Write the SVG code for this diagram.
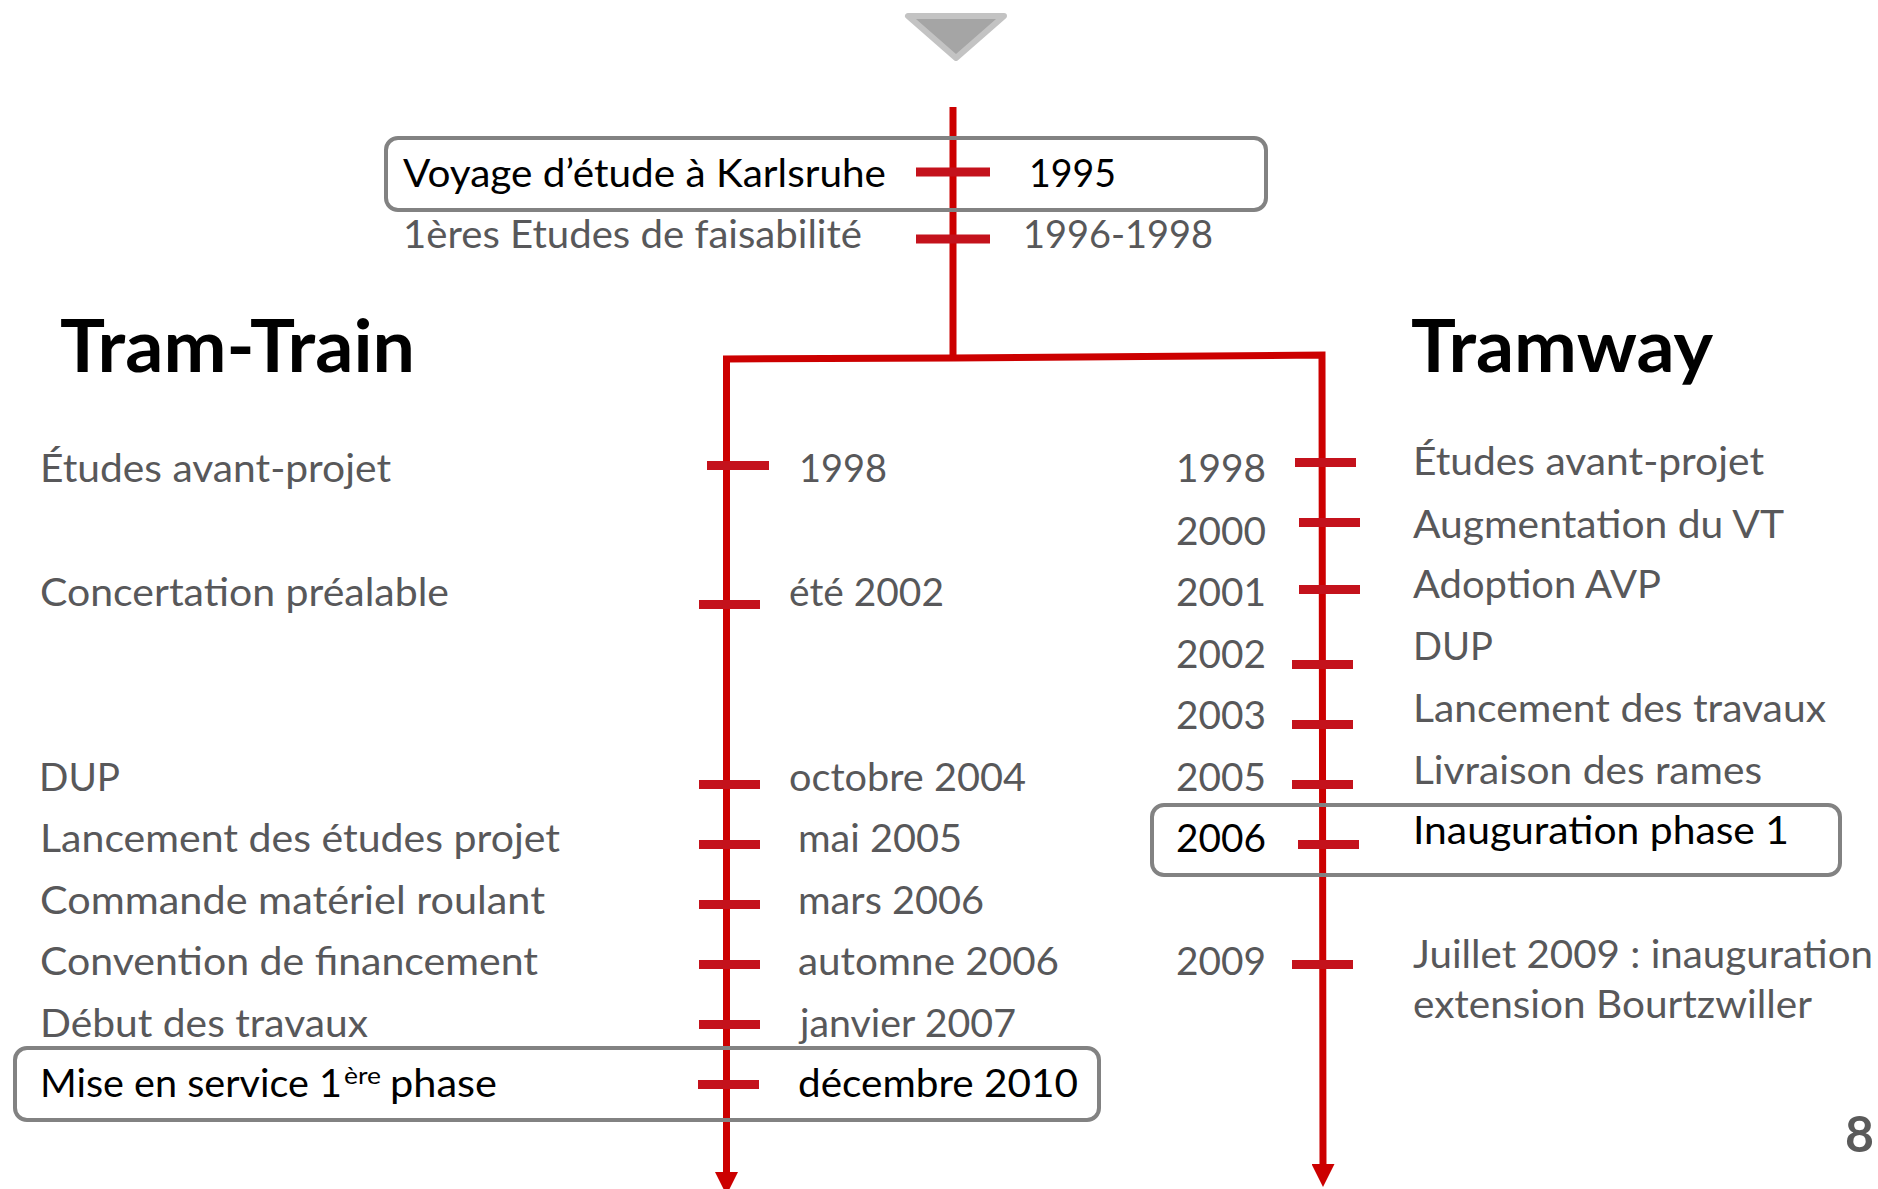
<svg xmlns="http://www.w3.org/2000/svg" width="1878" height="1189" viewBox="0 0 1878 1189">
<style>
text{font-family:Lato,"Liberation Sans",sans-serif;font-size:38px}
.g{fill:#58585a}
.k{fill:#000}
.ttl{font-weight:bold;font-size:73px;fill:#000}
.box{fill:none;stroke:#828282;stroke-width:4}
.tick{stroke:#c4121c;stroke-width:9}
.line{fill:none;stroke:#cc0000;stroke-width:7;stroke-linejoin:miter}
</style>
<defs>
<marker id="ah" viewBox="0 0 10 10" refX="0" refY="5" markerWidth="23" markerHeight="23" markerUnits="userSpaceOnUse" orient="auto">
<path d="M0,0 L10,5 L0,10 z" fill="#cc0000"/>
</marker>
</defs>
<rect width="1878" height="1189" fill="#fff"/>
<g id="nav-triangle">
<polygon points="908,16 1004,16 956,58" fill="#a5a5a5" stroke="#c3c3c3" stroke-width="6" stroke-linejoin="round"/>
</g>
<g id="connectors">
<path class="line" d="M953,107 V358"/>
<path class="line" d="M953,358 L726.5,359 L726.5,1172" marker-end="url(#ah)"/>
<path class="line" d="M953,358 L1322,355 L1323,1164" marker-end="url(#ah)"/>
</g>
<g id="titles">
<text class="ttl" x="60" y="372" textLength="355" lengthAdjust="spacingAndGlyphs">Tram-Train</text>
<text class="ttl" x="1411" y="372" textLength="302" lengthAdjust="spacingAndGlyphs">Tramway</text>
</g>
<g id="top-1995">
<line class="tick" x1="916" y1="172" x2="990" y2="172"/>
<rect class="box" x="386" y="138" width="880" height="72" rx="12"/>
<text class="k" x="403" y="187" textLength="483" lengthAdjust="spacingAndGlyphs">Voyage d’étude à Karlsruhe</text>
<text class="k" x="1029" y="187" textLength="87" lengthAdjust="spacingAndGlyphs">1995</text>
</g>
<g id="top-1996">
<line class="tick" x1="916" y1="239" x2="990" y2="239"/>
<text class="g" x="403" y="248" textLength="459" lengthAdjust="spacingAndGlyphs">1ères Etudes de faisabilité</text>
<text class="g" x="1023" y="248" textLength="190" lengthAdjust="spacingAndGlyphs">1996-1998</text>
</g>
<g id="tt-1998">
<line class="tick" x1="707" y1="465.5" x2="769" y2="465.5"/>
<text class="g" x="40" y="481.5" textLength="351" lengthAdjust="spacingAndGlyphs">Études avant-projet</text>
<text class="g" x="799" y="481.5" textLength="88" lengthAdjust="spacingAndGlyphs">1998</text>
</g>
<g id="tt-2002">
<line class="tick" x1="699" y1="604.5" x2="760" y2="604.5"/>
<text class="g" x="40" y="605.5" textLength="409" lengthAdjust="spacingAndGlyphs">Concertation préalable</text>
<text class="g" x="789" y="605.5" textLength="155" lengthAdjust="spacingAndGlyphs">été 2002</text>
</g>
<g id="tt-2004">
<line class="tick" x1="699" y1="784.5" x2="760" y2="784.5"/>
<text class="g" x="39" y="790.5" textLength="81" lengthAdjust="spacingAndGlyphs">DUP</text>
<text class="g" x="789" y="790.5" textLength="237" lengthAdjust="spacingAndGlyphs">octobre 2004</text>
</g>
<g id="tt-2005">
<line class="tick" x1="699" y1="844.5" x2="760" y2="844.5"/>
<text class="g" x="40" y="851.5" textLength="520" lengthAdjust="spacingAndGlyphs">Lancement des études projet</text>
<text class="g" x="798" y="851.5" textLength="164" lengthAdjust="spacingAndGlyphs">mai 2005</text>
</g>
<g id="tt-2006a">
<line class="tick" x1="699" y1="904.5" x2="760" y2="904.5"/>
<text class="g" x="40" y="913.5" textLength="505" lengthAdjust="spacingAndGlyphs">Commande matériel roulant</text>
<text class="g" x="798" y="913.5" textLength="186" lengthAdjust="spacingAndGlyphs">mars 2006</text>
</g>
<g id="tt-2006b">
<line class="tick" x1="699" y1="964.5" x2="760" y2="964.5"/>
<text class="g" x="40" y="974.5" textLength="498" lengthAdjust="spacingAndGlyphs">Convention de financement</text>
<text class="g" x="798" y="974.5" textLength="261" lengthAdjust="spacingAndGlyphs">automne 2006</text>
</g>
<g id="tt-2007">
<line class="tick" x1="699" y1="1024.5" x2="760" y2="1024.5"/>
<text class="g" x="40" y="1036.5" textLength="328" lengthAdjust="spacingAndGlyphs">Début des travaux</text>
<text class="g" x="800" y="1036.5" textLength="216" lengthAdjust="spacingAndGlyphs">janvier 2007</text>
</g>
<g id="tt-2010">
<line class="tick" x1="698" y1="1084.5" x2="759" y2="1084.5"/>
<rect class="box" x="15" y="1048" width="1084" height="72" rx="12"/>
<text class="k" x="40" y="1096.5" textLength="302" lengthAdjust="spacingAndGlyphs">Mise en service 1</text>
<text class="k" x="344" y="1083.5" style="font-size:24px" textLength="37" lengthAdjust="spacingAndGlyphs">ère</text>
<text class="k" x="390" y="1096.5" textLength="107" lengthAdjust="spacingAndGlyphs">phase</text>
<text class="k" x="798" y="1096.5" textLength="280" lengthAdjust="spacingAndGlyphs">décembre 2010</text>
</g>
<g id="tw-1998">
<line class="tick" x1="1295" y1="462.5" x2="1356" y2="462.5"/>
<text class="g" x="1176" y="481.5" textLength="90" lengthAdjust="spacingAndGlyphs">1998</text>
<text class="g" x="1413" y="475" textLength="351" lengthAdjust="spacingAndGlyphs">Études avant-projet</text>
</g>
<g id="tw-2000">
<line class="tick" x1="1299" y1="522.5" x2="1360" y2="522.5"/>
<text class="g" x="1176" y="544.5" textLength="90" lengthAdjust="spacingAndGlyphs">2000</text>
<text class="g" x="1413" y="537.5" textLength="371" lengthAdjust="spacingAndGlyphs">Augmentation du VT</text>
</g>
<g id="tw-2001">
<line class="tick" x1="1299" y1="589.5" x2="1360" y2="589.5"/>
<text class="g" x="1176" y="605.5" textLength="90" lengthAdjust="spacingAndGlyphs">2001</text>
<text class="g" x="1413" y="598" textLength="248" lengthAdjust="spacingAndGlyphs">Adoption AVP</text>
</g>
<g id="tw-2002">
<line class="tick" x1="1292" y1="664.5" x2="1353" y2="664.5"/>
<text class="g" x="1176" y="667.5" textLength="90" lengthAdjust="spacingAndGlyphs">2002</text>
<text class="g" x="1413" y="660" textLength="80" lengthAdjust="spacingAndGlyphs">DUP</text>
</g>
<g id="tw-2003">
<line class="tick" x1="1292" y1="724.5" x2="1353" y2="724.5"/>
<text class="g" x="1176" y="728.5" textLength="90" lengthAdjust="spacingAndGlyphs">2003</text>
<text class="g" x="1413" y="721.5" textLength="413" lengthAdjust="spacingAndGlyphs">Lancement des travaux</text>
</g>
<g id="tw-2005">
<line class="tick" x1="1292" y1="784.5" x2="1353" y2="784.5"/>
<text class="g" x="1176" y="790.5" textLength="90" lengthAdjust="spacingAndGlyphs">2005</text>
<text class="g" x="1413" y="783.5" textLength="349" lengthAdjust="spacingAndGlyphs">Livraison des rames</text>
</g>
<g id="tw-2006">
<line class="tick" x1="1298" y1="844.5" x2="1359" y2="844.5"/>
<rect class="box" x="1152" y="805" width="688" height="70" rx="12"/>
<text class="k" x="1176" y="851.5" textLength="90" lengthAdjust="spacingAndGlyphs">2006</text>
<text class="k" x="1413" y="844" textLength="376" lengthAdjust="spacingAndGlyphs">Inauguration phase 1</text>
</g>
<g id="tw-2009">
<line class="tick" x1="1292" y1="964.5" x2="1353" y2="964.5"/>
<text class="g" x="1176" y="974.5" textLength="90" lengthAdjust="spacingAndGlyphs">2009</text>
<text class="g" x="1413" y="968" textLength="460" lengthAdjust="spacingAndGlyphs">Juillet 2009 : inauguration</text>
<text class="g" x="1413" y="1018" textLength="399" lengthAdjust="spacingAndGlyphs">extension Bourtzwiller</text>
</g>
<g id="page-number">
<text x="1845" y="1152" style="font-size:50px;font-weight:bold;fill:#5a5a5a">8</text>
</g>
</svg>
